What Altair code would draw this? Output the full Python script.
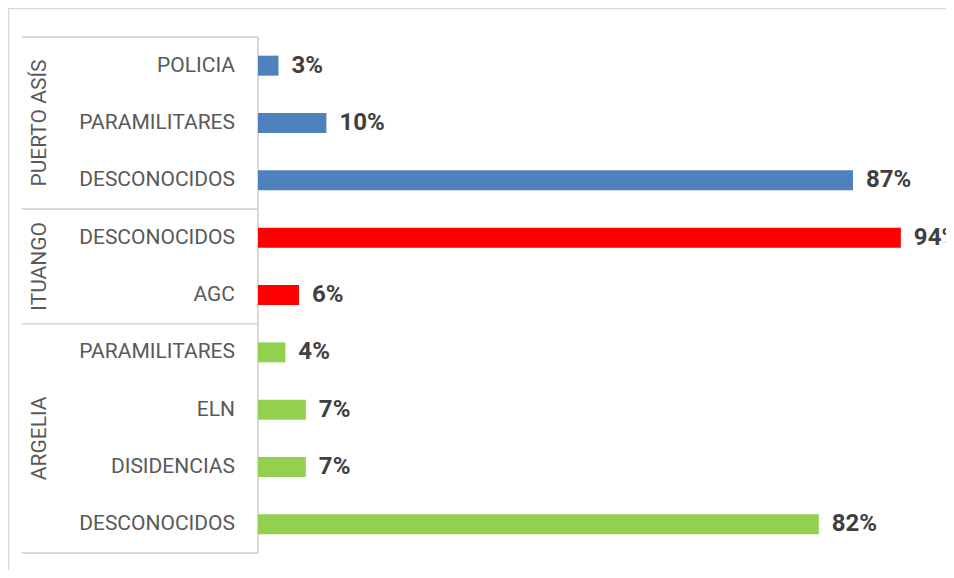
import altair as alt
import pandas as pd

# ---- data ----
grupos = ["PUERTO ASÍS", "PUERTO ASÍS", "PUERTO ASÍS",
          "ITUANGO", "ITUANGO",
          "ARGELIA", "ARGELIA", "ARGELIA", "ARGELIA"]
categorias = ["POLICIA", "PARAMILITARES", "DESCONOCIDOS",
              "DESCONOCIDOS", "AGC",
              "PARAMILITARES", "ELN\u00a0", "DISIDENCIAS", "DESCONOCIDOS"]
valores = [3, 10, 87, 94, 6, 4, 7, 7, 82]
grupo_orden = ["PUERTO ASÍS", "ITUANGO", "ARGELIA"]
grupo_colores = ["#4F81BD", "#FF0000", "#92D050"]

df = pd.DataFrame({
    "grupo": grupos,
    "categoria": categorias,
    "valor": valores,
    "fila": list(range(len(valores))),
})
df["etiqueta"] = df["valor"].astype(str) + "%"

# group boundaries (between groups), from the data
limites = [-0.5]
for g in grupo_orden:
    limites.append(float(df[df["grupo"] == g]["fila"].max()) + 0.5)
sep_df = pd.DataFrame({"b": limites})
one = pd.DataFrame({"a": [0]})

W, H = 688, 516
FONT = "Roboto"
GRID = "#d9d9d9"

y_scale = alt.Scale(domain=[-0.5, len(valores) - 0.5], reverse=True, nice=False,
                    zero=False, padding=0)
x_scale = alt.Scale(domain=[0, 100.6], nice=False, padding=0)

base = alt.Chart(df)

bars = base.mark_bar(orient="horizontal", size=20).encode(
    x=alt.X("valor:Q", scale=x_scale, axis=None),
    y=alt.Y("fila:Q", scale=y_scale, axis=None),
    color=alt.Color("grupo:N", scale=alt.Scale(domain=grupo_orden, range=grupo_colores), legend=None),
)

labels = base.mark_text(align="left", baseline="middle", dx=13, font=FONT,
                        fontSize=24, fontWeight="bold", color="#404040").encode(
    x=alt.X("valor:Q", scale=x_scale, axis=None),
    y=alt.Y("fila:Q", scale=y_scale, axis=None),
    text="etiqueta:N",
)

cats = base.mark_text(align="right", baseline="middle", font=FONT,
                      fontSize=21, color="#595959").encode(
    x=alt.value(-23),
    y=alt.Y("fila:Q", scale=y_scale, axis=None),
    text="categoria:N",
)

group_labels = base.transform_aggregate(
    mid="mean(fila)", groupby=["grupo"]
).mark_text(angle=270, align="center", baseline="middle", font=FONT,
            fontSize=21, color="#595959").encode(
    x=alt.value(-218),
    y=alt.Y("mid:Q", scale=y_scale, axis=None),
    text="grupo:N",
)

separators = alt.Chart(sep_df).mark_rule(color=GRID, strokeWidth=2).encode(
    x=alt.value(-236), x2=alt.value(0),
    y=alt.Y("b:Q", scale=y_scale, axis=None),
)

axis_line = alt.Chart(one).mark_rule(color=GRID, strokeWidth=2).encode(
    x=alt.value(0), y=alt.value(0), y2=alt.value(H),
)

frame_left = alt.Chart(one).mark_rule(color=GRID, strokeWidth=1.5).encode(
    x=alt.value(-249.5), y=alt.value(-29), y2=alt.value(H + 40),
)
frame_top = alt.Chart(one).mark_rule(color=GRID, strokeWidth=1.5).encode(
    x=alt.value(-250), x2=alt.value(W + 40), y=alt.value(-28.5),
)

chart = alt.layer(
    frame_left, frame_top, separators, axis_line, bars, labels, cats, group_labels
).properties(
    width=W, height=H,
    autosize=alt.AutoSizeParams(type="none"),
    padding={"left": 250, "top": 29, "right": 0, "bottom": 17},
    background="white",
).configure_view(stroke=None)

chart.save("out.html", embed_options={"renderer": "svg", "actions": False})
